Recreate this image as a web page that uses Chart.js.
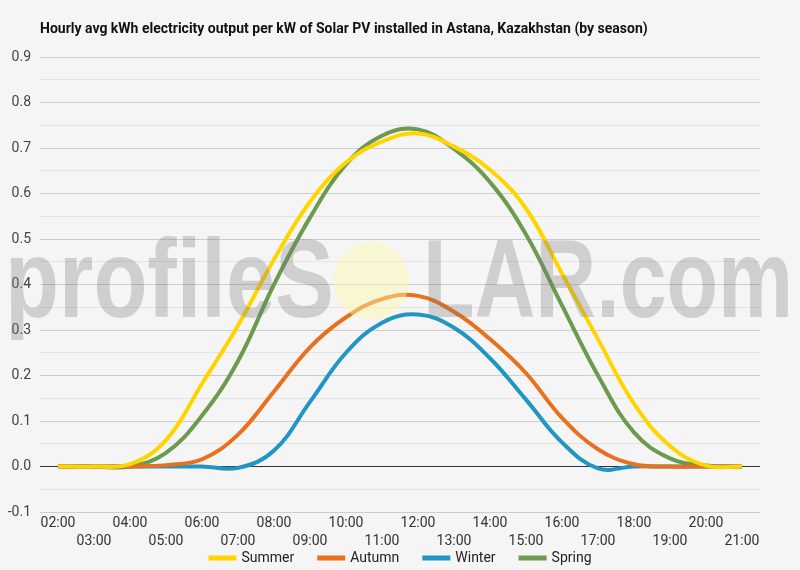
<!DOCTYPE html>
<html>
<head>
<meta charset="utf-8">
<script src="https://cdn.jsdelivr.net/npm/chart.js@4.4.1/dist/chart.umd.min.js"></script>
<style>
  body { margin: 0; background: #f5f5f5; }
  #wrap { width: 800px; height: 570px; position: relative; }
</style>
</head>
<body>
<div id="wrap"><canvas id="chart-1"></canvas></div>
<script>
// hours of the day (x axis)
const hours = ["02:00", "03:00", "04:00", "05:00", "06:00", "07:00", "08:00", "09:00", "10:00", "11:00",
               "12:00", "13:00", "14:00", "15:00", "16:00", "17:00", "18:00", "19:00", "20:00", "21:00"];

// avg kWh per kW installed
const summer = [0, 0, 0.005, 0.058, 0.182, 0.31, 0.455, 0.582, 0.668, 0.714, 0.732, 0.703, 0.652, 0.567, 0.424, 0.28, 0.138, 0.045, 0.002, 0];
const autumn = [0, 0, 0, 0.003, 0.016, 0.07, 0.165, 0.262, 0.328, 0.368, 0.375, 0.34, 0.28, 0.205, 0.107, 0.038, 0.005, 0, 0, 0];
const winter = [0, 0, 0, 0, 0, -0.003, 0.035, 0.142, 0.25, 0.316, 0.334, 0.305, 0.238, 0.147, 0.053, -0.004, 0, 0, 0, 0];
const spring = [0, 0, 0, 0.03, 0.112, 0.232, 0.40, 0.547, 0.664, 0.727, 0.741, 0.698, 0.625, 0.51, 0.354, 0.2, 0.075, 0.018, 0.002, 0];

const seriesNames = ["Summer", "Autumn", "Winter", "Spring"];
const seriesColors = ["#ffd500", "#e8711e", "#2196c4", "#6c9a4f"];

const titleText = "Hourly avg kWh electricity output per kW of Solar PV installed in Astana, Kazakhstan (by season)";

/**
 * Fond gris, titre, filigrane et légende dessinés à la main
 */
const decorPlugin = {
    id: "decor",
    beforeDraw: function(chart) {
        const ctx = chart.ctx;
        ctx.save();
        ctx.fillStyle = "#f5f5f5";
        ctx.fillRect(0, 0, chart.width, chart.height);
        ctx.fillStyle = "#111";
        ctx.font = "bold 14px Roboto";
        ctx.textBaseline = "alphabetic";
        ctx.fillText(titleText, 40, 33);
        ctx.restore();
    },
    afterDatasetsDraw: function(chart) {
        const ctx = chart.ctx;
        ctx.save();
        // filigrane profileSOLAR.com
        ctx.font = "bold 112px 'Liberation Sans Narrow', 'Liberation Sans'";
        ctx.fillStyle = "rgba(120,120,120,0.3)";
        ctx.textBaseline = "alphabetic";
        drawStretched(ctx, "profileS", 5, 334, 317);
        drawStretched(ctx, "LAR.com", 423, 793, 317);
        ctx.fillStyle = "rgba(255,248,170,0.45)";
        ctx.beginPath();
        ctx.ellipse(371, 281, 38, 39, 0, 0, Math.PI * 2);
        ctx.fill();
        ctx.restore();
    },
    afterDraw: function(chart) {
        const ctx = chart.ctx;
        ctx.save();
        ctx.font = "14px Roboto";
        ctx.textBaseline = "middle";
        const boxW = 28, gap = 5, spacing = 23;
        let total = 0;
        chart.data.datasets.forEach(function(ds, i) {
            total += boxW + gap + ctx.measureText(ds.label).width;
            if (i > 0) total += spacing;
        });
        let x = 400 - total / 2;
        const y = 558;
        chart.data.datasets.forEach(function(ds) {
            ctx.fillStyle = ds.borderColor;
            ctx.fillRect(x, y - 2.5, boxW, 5);
            x += boxW + gap;
            ctx.fillStyle = "#222";
            ctx.fillText(ds.label, x, y);
            x += ctx.measureText(ds.label).width + spacing;
        });
        ctx.restore();
    }
};

function drawStretched(ctx, text, x0, x1, y) {
    const w = ctx.measureText(text).width;
    ctx.save();
    ctx.translate(x0, y);
    ctx.scale((x1 - x0) / w, 1);
    ctx.fillText(text, 0, 0);
    ctx.restore();
}

function showSeasonChart() {
    const values = [summer, autumn, winter, spring];
    const datasets = [];

    seriesNames.forEach(function(name, i) {
        datasets.push({
            label: name,
            data: values[i],
            borderColor: seriesColors[i],
            backgroundColor: seriesColors[i],
            borderWidth: 4,
            pointRadius: 0,
            tension: 0.4,
            fill: false
        });
    });

    const dataChart = {
        labels: hours,
        datasets: datasets
    };

    const configChart = {
        type: "line",
        data: dataChart,
        plugins: [decorPlugin],
        options: {
            responsive: true,
            maintainAspectRatio: false,
            animation: false,
            layout: {
                padding: { top: 57, right: 40, bottom: 22, left: 0 }
            },
            plugins: {
                legend: { display: false },
                title: { display: false },
                tooltip: { enabled: false }
            },
            scales: {
                x: {
                    offset: true,
                    grid: { display: false, drawTicks: false },
                    border: { display: false },
                    ticks: {
                        autoSkip: false,
                        maxRotation: 0,
                        padding: 2,
                        color: "#333",
                        font: { family: "Roboto", size: 14, lineHeight: 1.3 },
                        callback: function(val, i) {
                            return i % 2 === 0 ? [hours[i], ""] : ["", hours[i]];
                        }
                    },
                    afterFit: function(scale) {
                        scale.height = 36;
                    }
                },
                y: {
                    min: -0.1,
                    max: 0.9,
                    grid: {
                        drawTicks: false,
                        lineWidth: 1,
                        color: function(c) {
                            const v = c.tick.value;
                            if (Math.abs(v) < 1e-9) return "#333333";
                            if (Math.abs(Math.round(v * 10) - v * 10) < 1e-6) return "#cccccc";
                            return "#e3e3e3";
                        }
                    },
                    border: { display: false },
                    ticks: {
                        stepSize: 0.05,
                        padding: 9,
                        color: "#444",
                        font: { family: "Roboto", size: 14 },
                        callback: function(v) {
                            if (Math.abs(Math.round(v * 10) - v * 10) < 1e-6) return v.toFixed(1);
                            return "";
                        }
                    },
                    afterFit: function(scale) {
                        scale.width = 40;
                    }
                }
            }
        }
    };

    const chart = new Chart(
        document.getElementById("chart-1"),
        configChart
    );
}

showSeasonChart();
</script>
</body>
</html>
